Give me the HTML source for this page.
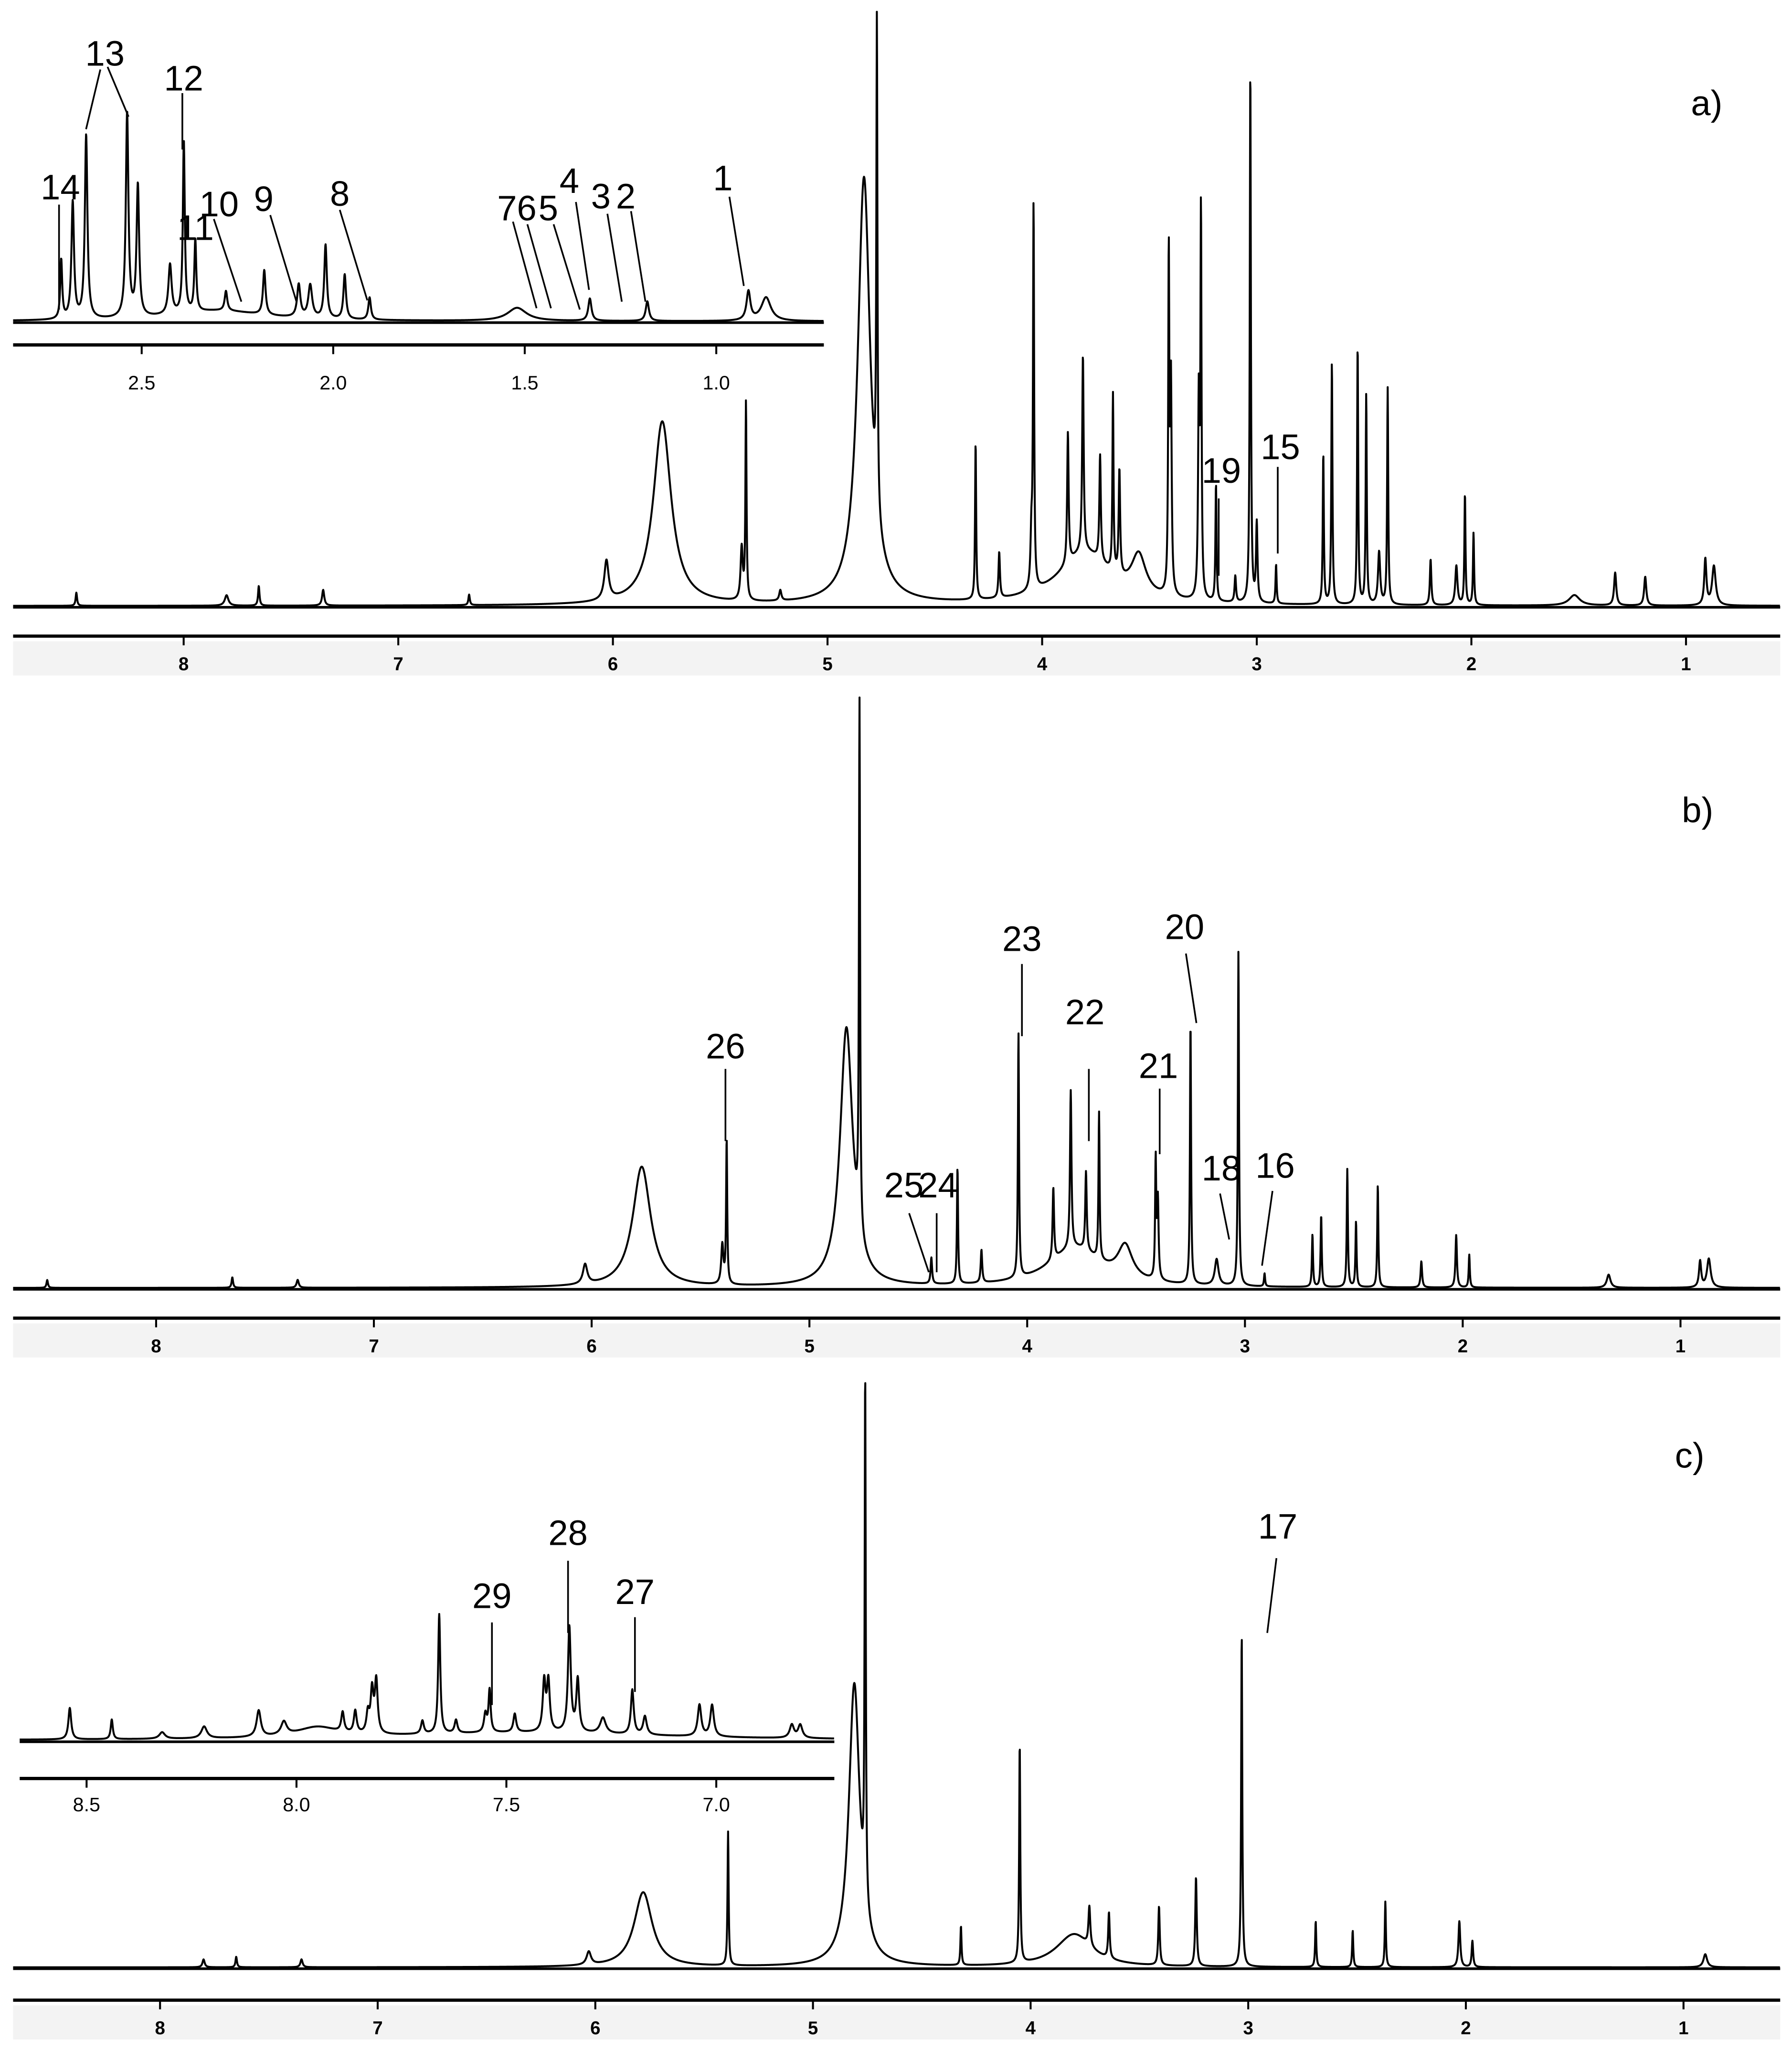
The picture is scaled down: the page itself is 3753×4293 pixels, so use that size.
<!DOCTYPE html>
<html><head><meta charset="utf-8"><style>
html,body{margin:0;padding:0;background:#fff;}
svg{display:block;}
text{font-family:"Liberation Sans",sans-serif;fill:#000;}
.lbl{font-size:27px;}
.tick{font-size:14px;font-weight:bold;}
.itick{font-size:15px;}
</style></head><body>
<svg id="fig" xmlns="http://www.w3.org/2000/svg" width="3753" height="4293" viewBox="0 0 1366 1563" preserveAspectRatio="none">
<g id="panels"></g>
<g id="annot" stroke="#000" stroke-width="1.3" fill="none">
 <line x1="45" y1="156" x2="45" y2="236"/>
 <line x1="76.5" y1="53" x2="65.6" y2="98.5"/><line x1="82" y1="51" x2="98" y2="89"/>
 <line x1="139" y1="71" x2="139" y2="114"/>
 <line x1="163" y1="167" x2="184" y2="230"/>
 <line x1="206" y1="164" x2="226" y2="230"/>
 <line x1="259" y1="160" x2="280" y2="229"/>
 <line x1="391" y1="169" x2="409" y2="235"/><line x1="402" y1="171" x2="420" y2="235"/>
 <line x1="422" y1="171" x2="442" y2="236"/>
 <line x1="439" y1="154" x2="449" y2="221"/>
 <line x1="463" y1="163" x2="474" y2="230"/>
 <line x1="481" y1="161" x2="492" y2="230"/>
 <line x1="556" y1="150" x2="567" y2="218"/>
 <line x1="929" y1="380" x2="929" y2="439"/>
 <line x1="974" y1="356" x2="974" y2="422"/>
 <line x1="553" y1="815" x2="553" y2="870"/>
 <line x1="693" y1="925" x2="708" y2="970"/><line x1="714" y1="925" x2="714" y2="970"/>
 <line x1="779" y1="735" x2="779" y2="790"/>
 <line x1="830" y1="815" x2="830" y2="870"/>
 <line x1="884" y1="830" x2="884" y2="880"/>
 <line x1="904" y1="727" x2="912" y2="780"/>
 <line x1="930" y1="910" x2="937" y2="945"/>
 <line x1="970" y1="908" x2="962" y2="965"/>
 <line x1="973" y1="1188" x2="966" y2="1245"/>
 <line x1="375" y1="1237" x2="375" y2="1300"/>
 <line x1="433" y1="1190" x2="433" y2="1245"/>
 <line x1="484" y1="1233" x2="484" y2="1290"/>
</g>
<g id="labels" text-anchor="middle">
 <text class="lbl" x="46" y="152">14</text>
 <text class="lbl" x="80" y="50">13</text>
 <text class="lbl" x="140" y="69">12</text>
 <text class="lbl" x="149" y="183">11</text>
 <text class="lbl" x="167" y="165">10</text>
 <text class="lbl" x="201" y="161">9</text>
 <text class="lbl" x="259" y="157">8</text>
 <text class="lbl" x="394" y="168">76</text>
 <text class="lbl" x="418" y="168">5</text>
 <text class="lbl" x="434" y="147">4</text>
 <text class="lbl" x="458" y="159">3</text>
 <text class="lbl" x="477" y="159">2</text>
 <text class="lbl" x="551" y="145">1</text>
 <text class="lbl" x="931" y="368">19</text>
 <text class="lbl" x="976" y="350">15</text>
 <text class="lbl" x="1301" y="88">a)</text>
 <text class="lbl" x="553" y="807">26</text>
 <text class="lbl" x="689" y="913">25</text>
 <text class="lbl" x="715" y="913">24</text>
 <text class="lbl" x="779" y="725">23</text>
 <text class="lbl" x="827" y="781">22</text>
 <text class="lbl" x="883" y="822">21</text>
 <text class="lbl" x="903" y="716">20</text>
 <text class="lbl" x="931" y="900">18</text>
 <text class="lbl" x="972" y="898">16</text>
 <text class="lbl" x="1294" y="627">b)</text>
 <text class="lbl" x="974" y="1173">17</text>
 <text class="lbl" x="1288" y="1119">c)</text>
 <text class="lbl" x="375" y="1226">29</text>
 <text class="lbl" x="433" y="1178">28</text>
 <text class="lbl" x="484" y="1223">27</text>
</g>
</svg>
<script>
// Panel a main spectrum
const aPpm=[8.5,7.8,7.65,7.35,6.67,6.03,5.77,5.40,5.38,5.22,4.83,4.77,4.31,4.20,4.05,4.04,3.88,3.81,3.80,3.73,3.67,3.64,3.55,3.41,3.40,3.27,3.26,3.19,3.10,3.03,3.00,2.91,2.69,2.65,2.53,2.49,2.43,2.39,2.19,2.07,2.03,1.99,1.52,1.33,1.19,0.91,0.87];
const aHeight=[10,8,15,12,8,30,140,40,150,8,325,370,120,35,40,290,100,150,40,80,135,80,30,255,160,150,290,90,20,410,60,30,115,185,198,160,40,165,35,30,85,55,8,25,22,35,30];
const aWidth=[.004,.01,.004,.006,.004,.012,.05,.006,.003,.006,.035,.003,.003,.004,.005,.003,.004,.004,.15,.004,.003,.004,.04,.003,.004,.004,.003,.003,.004,.003,.004,.003,.003,.003,.003,.003,.006,.003,.004,.006,.003,.003,.03,.006,.006,.006,.01];
// Panel b main spectrum
const bPpm=[8.5,7.65,7.35,6.03,5.77,5.40,5.38,4.83,4.77,4.44,4.32,4.21,4.04,3.88,3.80,3.78,3.73,3.67,3.55,3.41,3.40,3.25,3.13,3.03,2.91,2.69,2.65,2.53,2.49,2.39,2.19,2.03,1.97,1.33,0.91,0.87];
const bHeight=[6,8,6,15,92,30,110,197,400,20,89,25,187,55,120,30,60,112,25,90,60,200,20,255,10,40,55,90,50,78,20,40,25,10,20,22];
const bWidth=[.004,.004,.006,.012,.05,.006,.003,.035,.003,.004,.003,.004,.003,.004,.004,.15,.004,.003,.04,.003,.004,.003,.01,.003,.003,.003,.003,.003,.003,.003,.004,.004,.003,.01,.006,.01];
// Panel c main spectrum
const cPpm=[7.8,7.65,7.35,6.03,5.78,5.39,4.81,4.76,4.32,4.05,3.80,3.73,3.64,3.41,3.24,3.03,2.69,2.52,2.37,2.03,1.97,0.9];
const cHeight=[6,8,6,10,57,102,215,400,30,168,25,30,35,45,68,255,35,28,50,35,20,10];
const cWidth=[.006,.004,.006,.012,.05,.003,.03,.003,.003,.003,.1,.005,.004,.004,.004,.003,.003,.003,.003,.005,.004,.01];
// Inset a (0.72-2.84 ppm)
const iaPpm=[2.71,2.68,2.645,2.538,2.51,2.426,2.39,2.36,2.30,2.28,2.18,2.09,2.06,2.02,1.97,1.905,1.52,1.33,1.18,0.916,0.87];
const iaHeight=[45,89,140,156,100,38,131,55,8,15,34,25,25,56,34,17,10,17,15,22,18];
const iaWidth=[.003,.004,.004,.004,.004,.005,.003,.003,.15,.004,.004,.005,.006,.004,.004,.004,.03,.005,.005,.006,.015];
// Inset c (6.72-8.66 ppm)
const icPpm=[8.54,8.44,8.32,8.22,8.09,8.03,7.95,7.89,7.86,7.83,7.82,7.81,7.70,7.66,7.62,7.55,7.54,7.48,7.41,7.40,7.35,7.33,7.27,7.20,7.17,7.04,7.01,6.82,6.80,7.45];
const icHeight=[24,15,5,9,20,10,8,15,17,15,32,40,10,91,10,14,32,14,38,38,80,40,12,34,14,24,24,10,10,6];
const icWidth=[.004,.003,.008,.008,.006,.008,.06,.004,.004,.004,.004,.004,.004,.003,.004,.004,.003,.004,.004,.004,.004,.004,.008,.004,.005,.005,.005,.006,.006,.4];
// Axis ticks
const mainTicks=[8,7,6,5,4,3,2,1];
const iaTicks=[2.5,2.0,1.5,1.0];
const iaTickLabels=["2.5","2.0","1.5","1.0"];
const icTicks=[8.5,8.0,7.5,7.0];
const icTickLabels=["8.5","8.0","7.5","7.0"];

const NS="http://www.w3.org/2000/svg";
const root=document.getElementById('panels');
function mk(tag,attrs,parent){const e=document.createElementNS(NS,tag);for(const k in attrs)e.setAttribute(k,attrs[k]);(parent||root).appendChild(e);return e;}
function spectrum(ppm,h,w,xOf,ppmOf,base,x0,x1,name){
  let d='';
  for(let x=x0;x<=x1;x+=0.2){
    const p=ppmOf(x);let s=0;
    for(let i=0;i<ppm.length;i++){const t=(p-ppm[i])/w[i];s+=h[i]/(1+t*t);}
    d+=(d?'L':'M')+x.toFixed(2)+' '+(base-s).toFixed(2);
  }
  const e=mk('path',{d:d,fill:'none',stroke:'#000','stroke-width':1.5,'stroke-linejoin':'round'});
  
  
}
function panel(cfg){
  const xOf=p=>cfg.x8+(cfg.p0-p)*cfg.k, ppmOf=x=>cfg.p0-(x-cfg.x8)/cfg.k;
  const bl=mk('line',{x1:cfg.xs,x2:cfg.xe,y1:cfg.base+1,y2:cfg.base+1,stroke:'#000','stroke-width':2});
  
  
  if(cfg.band){const r=mk('rect',{x:cfg.xs,y:cfg.axis+4,width:cfg.xe-cfg.xs,height:26,fill:'#f3f3f3'});
  
  }
  const ax=mk('line',{x1:cfg.xs,x2:cfg.xe,y1:cfg.axis,y2:cfg.axis,stroke:'#000','stroke-width':2.5});
  
  
  cfg.ticks.forEach((t,i)=>{
    const x=xOf(t);
    const tl=mk('line',{x1:x,x2:x,y1:cfg.axis,y2:cfg.axis+7,stroke:'#000','stroke-width':1.5});
    
    
    const tx=mk('text',{x:x,y:cfg.labelY,'text-anchor':'middle','class':cfg.tcls});
    tx.textContent=cfg.tlabels?cfg.tlabels[i]:String(t);
    
    
  });
  spectrum(cfg.ppm,cfg.h,cfg.w,xOf,ppmOf,cfg.base,cfg.xs,cfg.xe,cfg.name+'-spectrum');
}
panel({name:'panel-a',p0:8,x8:140,k:163.6,base:462,axis:485,labelY:511,xs:10,xe:1357,ticks:mainTicks,tcls:'tick',band:true,ppm:aPpm,h:aHeight,w:aWidth});
panel({name:'panel-b',p0:8,x8:119,k:166,base:982,axis:1005,labelY:1031,xs:10,xe:1357,ticks:mainTicks,tcls:'tick',band:true,ppm:bPpm,h:bHeight,w:bWidth});
panel({name:'panel-c',p0:8,x8:122,k:165.9,base:1500,axis:1525,labelY:1551,xs:10,xe:1357,ticks:mainTicks,tcls:'tick',band:true,ppm:cPpm,h:cHeight,w:cWidth});
panel({name:'inset-a',p0:2.5,x8:108,k:292,base:245,axis:263,labelY:297,xs:10,xe:628,ticks:iaTicks,tlabels:iaTickLabels,tcls:'itick',band:false,ppm:iaPpm,h:iaHeight,w:iaWidth});
panel({name:'inset-c',p0:8.5,x8:66,k:320,base:1327,axis:1356,labelY:1381,xs:15,xe:636,ticks:icTicks,tlabels:icTickLabels,tcls:'itick',band:false,ppm:icPpm,h:icHeight,w:icWidth});
</script>
</body></html>
